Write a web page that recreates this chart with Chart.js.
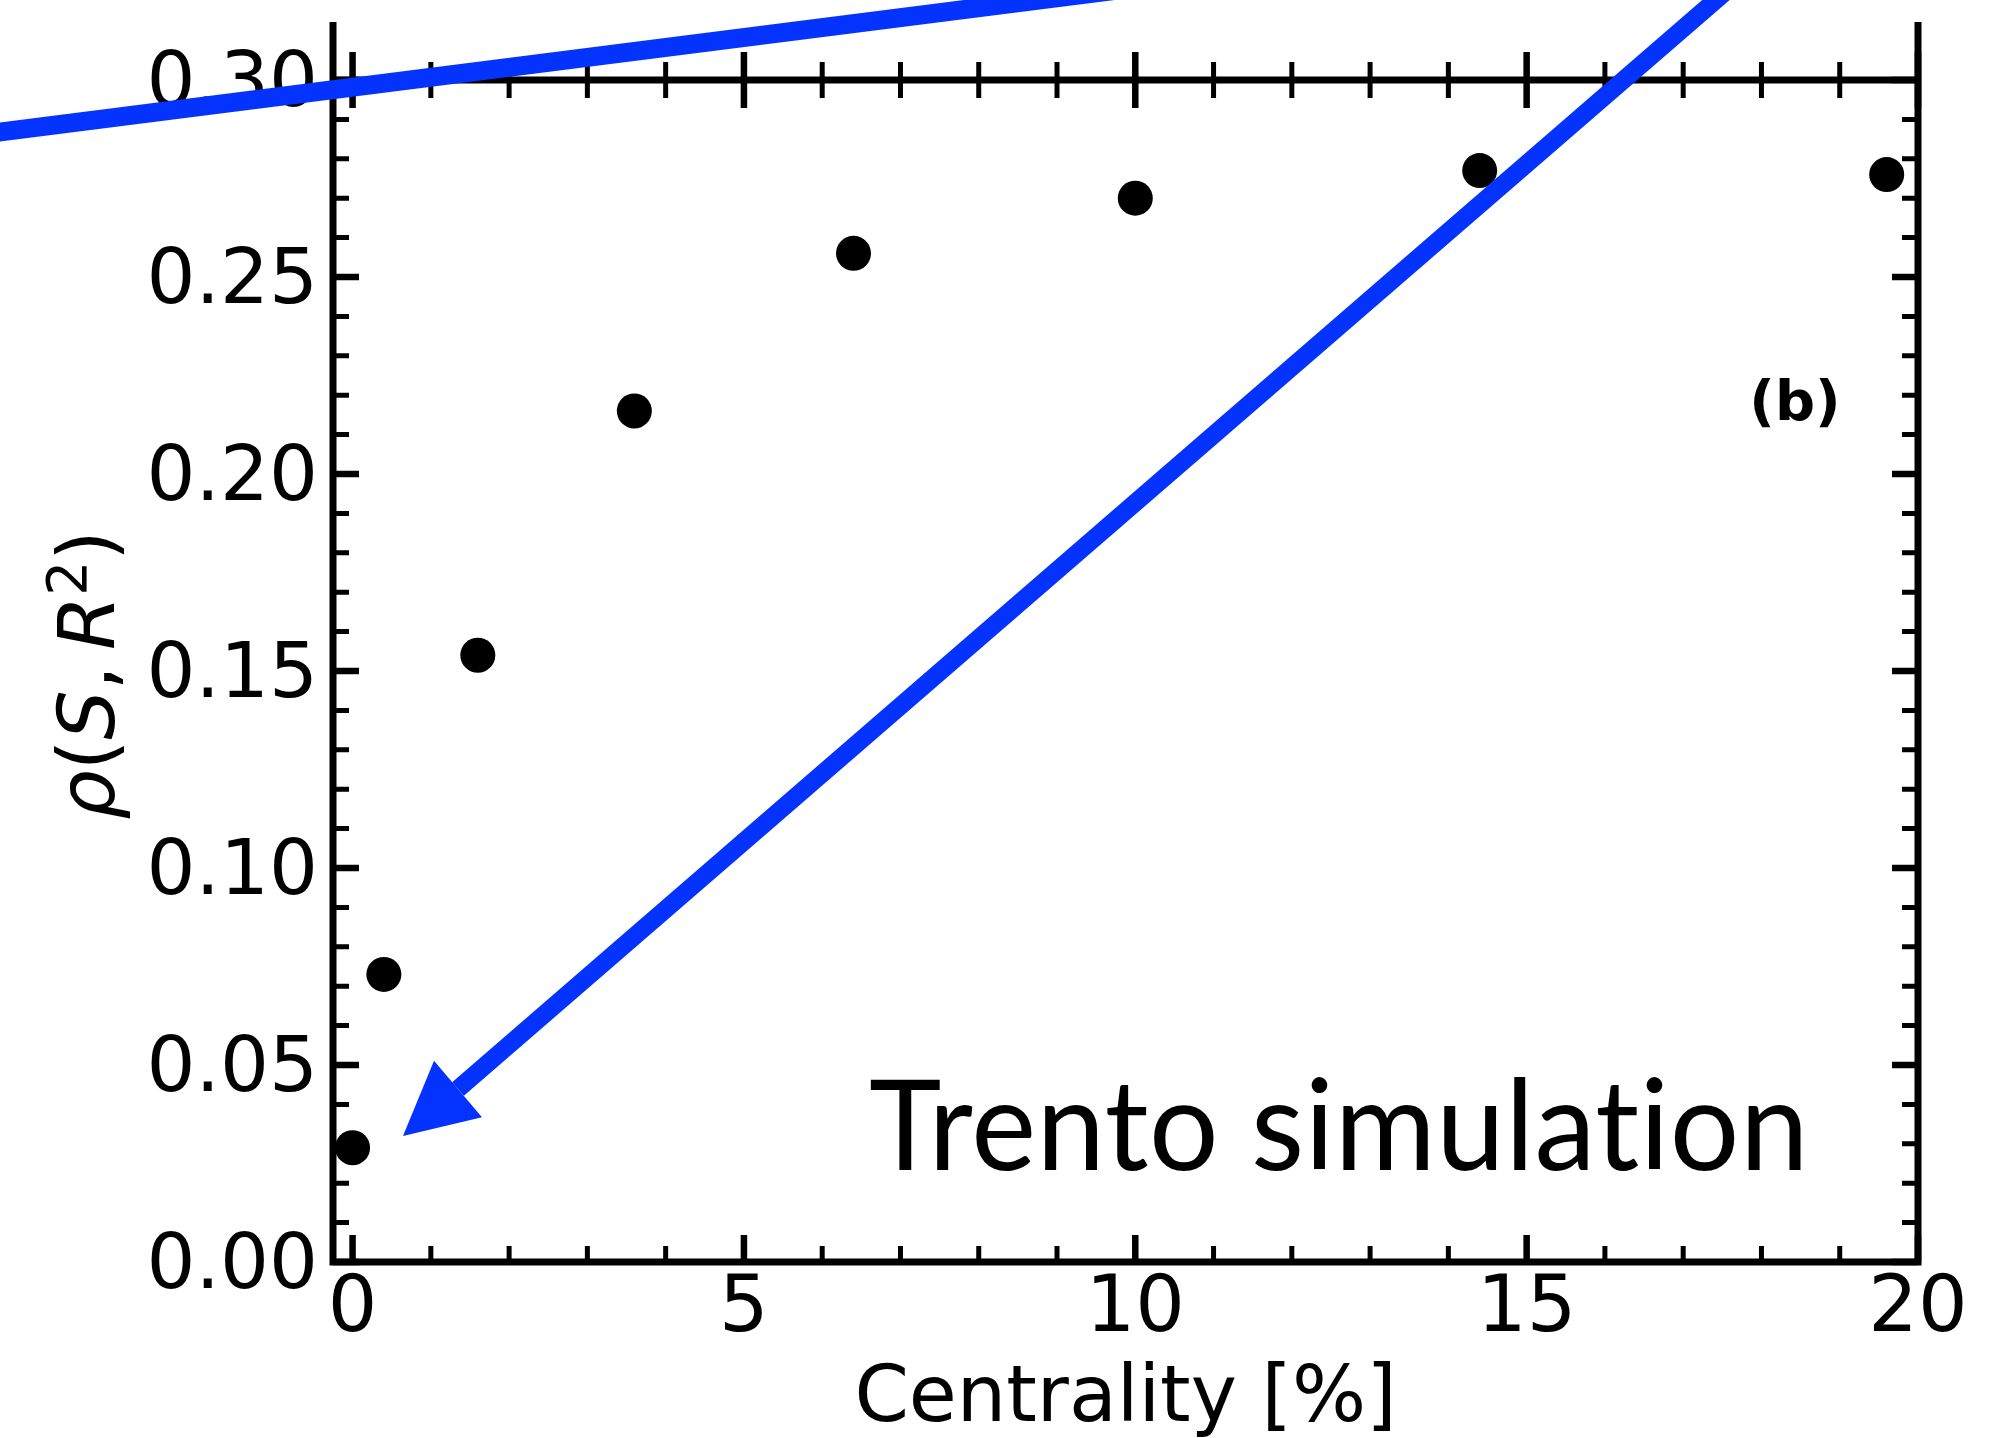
<!DOCTYPE html>
<html>
<head>
<meta charset="utf-8">
<script src="https://cdn.jsdelivr.net/npm/chart.js@4.4.1/dist/chart.umd.min.js"></script>
<style>
  html, body { margin: 0; padding: 0; background: #ffffff; }
  #wrap { width: 2009px; height: 1438px; position: relative; }
</style>
</head>
<body>
<div id="wrap"><canvas id="c"></canvas></div>
<script>
// ---------------- data ----------------
const centrality = [0, 0.4, 1.6, 3.6, 6.4, 10.0, 14.4, 19.6];
const rhoValues  = [0.029, 0.073, 0.154, 0.216, 0.256, 0.270, 0.277, 0.276];

const xRange = [-0.25, 20];
const yRange = [0, 0.30];
const xTickValues = [0, 5, 10, 15, 20];
const xMinorTickValues = [1, 2, 3, 4, 6, 7, 8, 9, 11, 12, 13, 14, 16, 17, 18, 19];
const yTickValues = [0, 0.05, 0.10, 0.15, 0.20, 0.25, 0.30];
const yMinorTickValues = [0.01, 0.02, 0.03, 0.04, 0.06, 0.07, 0.08, 0.09,
  0.11, 0.12, 0.13, 0.14, 0.16, 0.17, 0.18, 0.19, 0.21, 0.22, 0.23, 0.24,
  0.26, 0.27, 0.28, 0.29];

// annotation lines (data coordinates)
const annotationLine = [{x: -5.144, y: 0.28518}, {x: 10.188, y: 0.32387}];
const arrowShaft = [{x: 17.566, y: 0.32284}, {x: 1.347, y: 0.0439}];
const arrowTip = {x: 0.644, y: 0.032};

const xTitle = 'Centrality [%]';
const yTitleParts = [
  {t: 'ρ', s: 'i'}, {t: '(', s: 'n'}, {t: 'S', s: 'i'}, {t: ',', s: 'n'},
  {t: '\u2009', s: 'n'}, {t: 'R', s: 'i'}, {t: '2', s: 'sup'}, {t: ')', s: 'n'}
];
const noteText = 'Trento simulation';
const panelLabel = '(b)';

// ---------------- styles ----------------
const BLUE = '#0433ff';
const FONT = '"DejaVu Sans"';

const decorPlugin = {
  id: 'decor',
  beforeDatasetsDraw(chart) {
    const {ctx, chartArea: a, scales: {x, y}} = chart;
    ctx.save();
    ctx.strokeStyle = '#000';
    ctx.lineCap = 'butt';
    // spines
    ctx.lineWidth = 7;
    ctx.beginPath();
    ctx.moveTo(a.left, 22); ctx.lineTo(a.left, a.bottom + 3.5);
    ctx.moveTo(a.right, 22); ctx.lineTo(a.right, a.bottom + 3.5);
    ctx.moveTo(a.left - 3.5, a.top); ctx.lineTo(a.right + 3.5, a.top);
    ctx.moveTo(a.left - 3.5, a.bottom); ctx.lineTo(a.right + 3.5, a.bottom);
    ctx.stroke();

    const tickSet = (vals, len, w, major) => {
      ctx.lineWidth = w;
      ctx.beginPath();
      vals.forEach(v => {
        const px = x.getPixelForValue(v);
        ctx.moveTo(px, a.bottom); ctx.lineTo(px, a.bottom - len);
        const up = major ? 28 : 18;
        ctx.moveTo(px, a.top - up); ctx.lineTo(px, a.top + up);
      });
      ctx.stroke();
    };
    tickSet(xTickValues, 27, 6.5, true);
    tickSet(xMinorTickValues, 16, 5, false);

    const yTickSet = (vals, len, w) => {
      ctx.lineWidth = w;
      ctx.beginPath();
      vals.forEach(v => {
        const py = y.getPixelForValue(v);
        ctx.moveTo(a.left, py); ctx.lineTo(a.left + len, py);
        ctx.moveTo(a.right, py); ctx.lineTo(a.right - len, py);
      });
      ctx.stroke();
    };
    yTickSet(yTickValues, 26, 6.5);
    yTickSet(yMinorTickValues, 16, 5);
    ctx.restore();
  },
  afterDatasetsDraw(chart) {
    const {ctx, scales: {x, y}} = chart;
    const tx = x.getPixelForValue(arrowTip.x), ty = y.getPixelForValue(arrowTip.y);
    const bx = x.getPixelForValue(arrowShaft[1].x), by = y.getPixelForValue(arrowShaft[1].y);
    const dx = tx - bx, dy = ty - by;
    const L = Math.hypot(dx, dy);
    const ux = dx / L, uy = dy / L;
    const half = 37;
    ctx.save();
    ctx.fillStyle = BLUE;
    ctx.beginPath();
    ctx.moveTo(tx, ty);
    ctx.lineTo(bx - uy * half, by + ux * half);
    ctx.lineTo(bx + uy * half, by - ux * half);
    ctx.closePath();
    ctx.fill();
    ctx.restore();
  },
  afterDraw(chart) {
    const {ctx, chartArea: a} = chart;
    ctx.save();
    ctx.fillStyle = '#000';
    // y-axis title (mathtext-like)
    const fsz = 78;
    const fontFor = p => p.s === 'i' ? `italic ${fsz}px ${FONT}` :
                         p.s === 'sup' ? `${Math.round(fsz * 0.7)}px ${FONT}` : `${fsz}px ${FONT}`;
    ctx.translate(114, (a.top + a.bottom) / 2 + 4);
    ctx.rotate(-Math.PI / 2);
    let total = 0;
    yTitleParts.forEach(p => { ctx.font = fontFor(p); p.w = ctx.measureText(p.t).width; total += p.w; });
    let cx = -total / 2;
    ctx.textBaseline = 'alphabetic';
    ctx.textAlign = 'left';
    yTitleParts.forEach(p => {
      ctx.font = fontFor(p);
      ctx.fillText(p.t, cx, p.s === 'sup' ? -fsz * 0.36 : 0);
      cx += p.w;
    });
    ctx.restore();

    // note text
    ctx.save();
    ctx.fillStyle = '#000';
    ctx.font = '127px Lato';
    try { ctx.letterSpacing = '0.5px'; } catch (e) {}
    ctx.textBaseline = 'alphabetic';
    ctx.textAlign = 'left';
    const w = ctx.measureText(noteText).width;
    let sx = 940 / w;
    sx = Math.max(0.88, Math.min(1.12, sx));
    ctx.translate(869, 1170);
    ctx.scale(sx, 1);
    ctx.fillText(noteText, 0, 0);
    ctx.restore();

    // panel label
    ctx.save();
    ctx.fillStyle = '#000';
    ctx.font = `bold 56px ${FONT}`;
    ctx.textAlign = 'center';
    ctx.textBaseline = 'alphabetic';
    ctx.fillText(panelLabel, 1795, 420);
    ctx.restore();
  }
};

const ctxEl = document.getElementById('c');
new Chart(ctxEl, {
  type: 'scatter',
  data: {
    datasets: [
      {
        label: 'line',
        data: annotationLine,
        showLine: true,
        borderColor: BLUE,
        borderWidth: 19,
        borderCapStyle: 'butt',
        pointRadius: 0,
        pointHoverRadius: 0,
        clip: false,
        order: 0
      },
      {
        label: 'arrow',
        data: arrowShaft,
        showLine: true,
        borderColor: BLUE,
        borderWidth: 18,
        borderCapStyle: 'butt',
        pointRadius: 0,
        pointHoverRadius: 0,
        clip: false,
        order: 0
      },
      {
        label: 'rho',
        data: centrality.map((c, i) => ({x: c, y: rhoValues[i]})),
        backgroundColor: '#000',
        borderColor: '#000',
        borderWidth: 0,
        pointRadius: 17.5,
        pointHoverRadius: 17.5,
        clip: false,
        order: 1
      }
    ]
  },
  options: {
    responsive: true,
    maintainAspectRatio: false,
    devicePixelRatio: 1,
    animation: false,
    events: [],
    layout: { padding: { top: 80, right: 91, left: 0, bottom: 0 } },
    plugins: { legend: { display: false }, tooltip: { enabled: false } },
    scales: {
      x: {
        type: 'linear',
        min: xRange[0],
        max: xRange[1],
        afterBuildTicks: s => { s.ticks = xTickValues.map(v => ({value: v})); },
        afterFit: s => { s.height = 176; },
        grid: { display: false, drawTicks: false },
        border: { display: false },
        ticks: {
          autoSkip: false, maxRotation: 0, minRotation: 0,
          padding: 10,
          color: '#000',
          font: { family: 'DejaVu Sans', size: 78, lineHeight: 1 },
          callback: v => String(v)
        },
        title: {
          display: true,
          text: xTitle,
          color: '#000',
          font: { family: 'DejaVu Sans', size: 78, lineHeight: 0.9 },
          padding: { top: 0, bottom: 2 }
        }
      },
      y: {
        type: 'linear',
        min: yRange[0],
        max: yRange[1],
        afterBuildTicks: s => { s.ticks = yTickValues.map(v => ({value: v})); },
        afterFit: s => { s.width = 333; },
        grid: { display: false, drawTicks: false },
        border: { display: false },
        ticks: {
          autoSkip: false,
          padding: 15,
          labelOffset: 6,
          color: '#000',
          font: { family: 'DejaVu Sans', size: 77, lineHeight: 1 },
          callback: v => Number(v).toFixed(2)
        }
      }
    }
  },
  plugins: [decorPlugin]
});
</script>
</body>
</html>
